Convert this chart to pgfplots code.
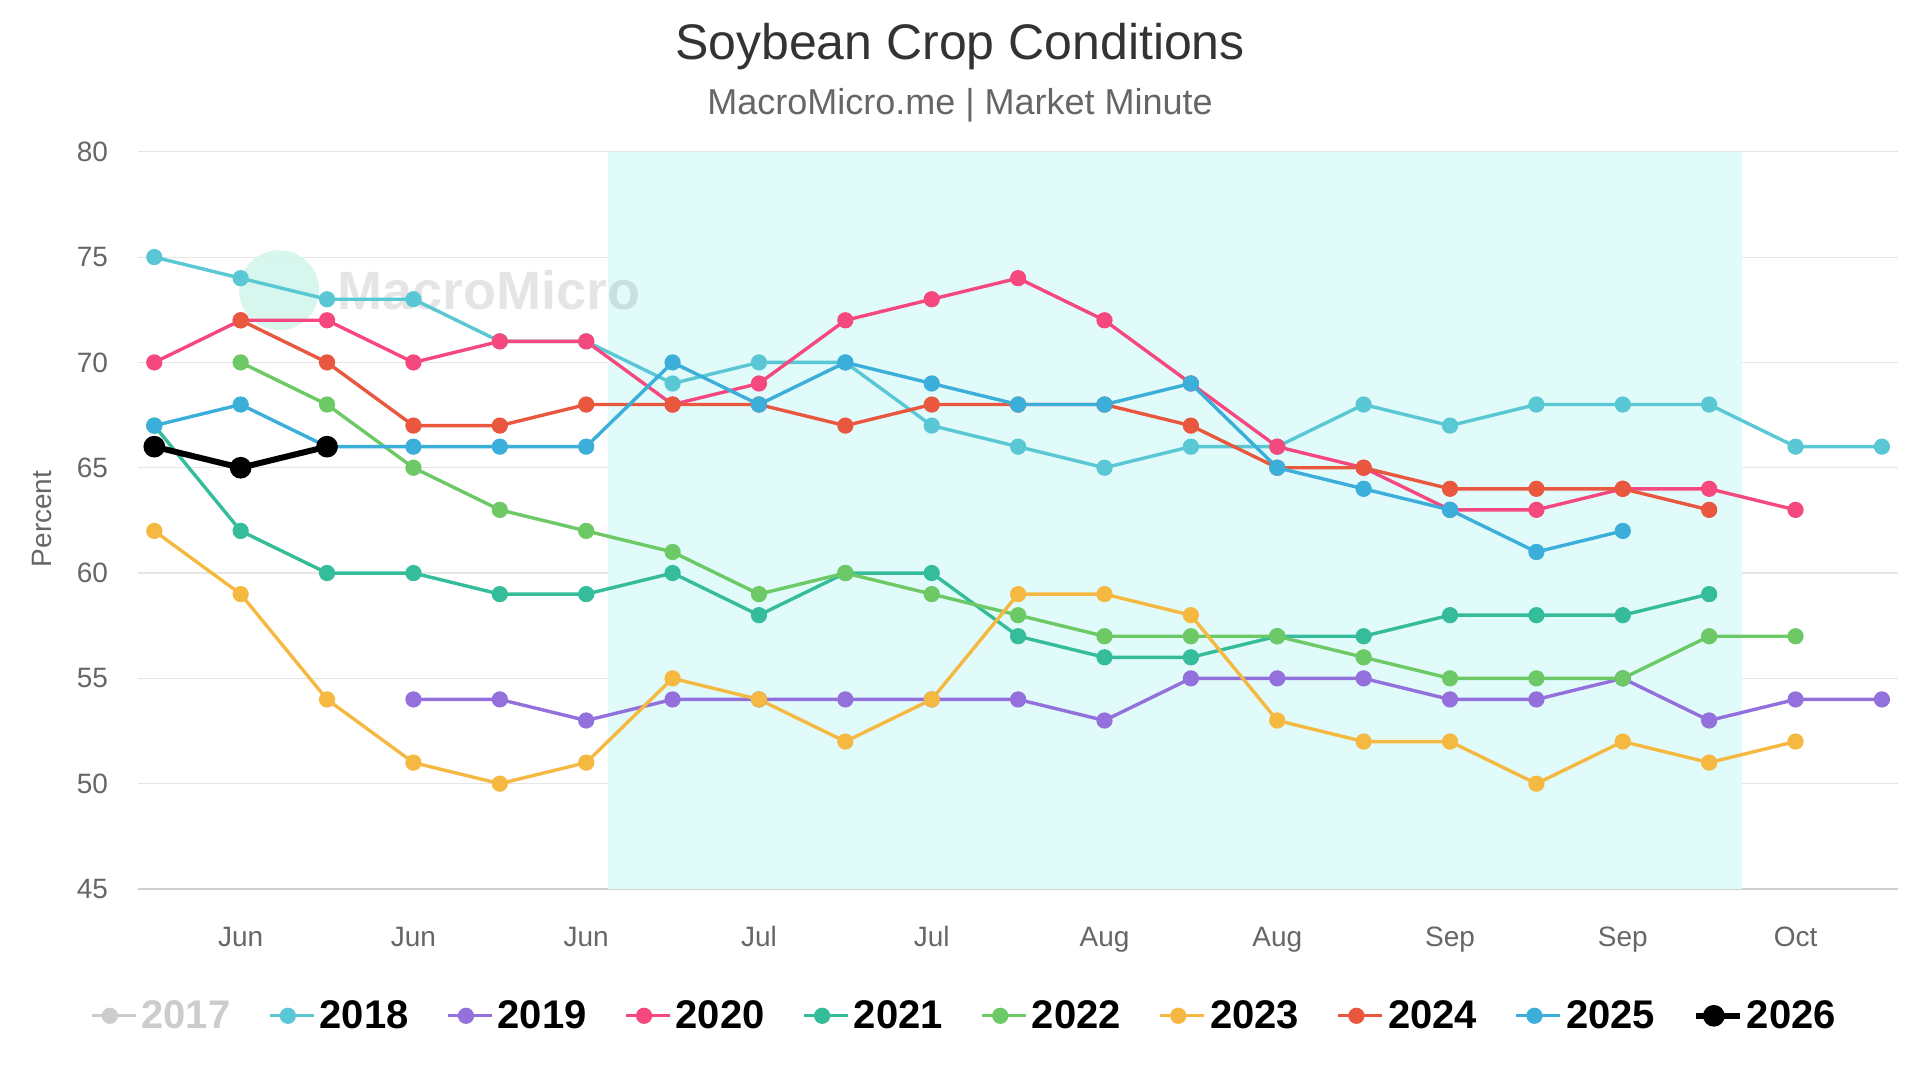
\documentclass[border=0pt]{standalone}
\usepackage{pgfplots}
\pgfplotsset{compat=1.18}
\usepackage{fontspec}
\setmainfont{Liberation Sans}
\definecolor{c17}{HTML}{CCCCCC}
\definecolor{c18}{HTML}{5AC8D4}
\definecolor{c19}{HTML}{9370DB}
\definecolor{c20}{HTML}{F5487F}
\definecolor{c21}{HTML}{35BC9B}
\definecolor{c22}{HTML}{6DC965}
\definecolor{c23}{HTML}{F5B942}
\definecolor{c24}{HTML}{E9573F}
\definecolor{c25}{HTML}{3BAEDA}
\definecolor{c26}{HTML}{000000}
\definecolor{band}{HTML}{E1FAFA}
\definecolor{gridc}{HTML}{E6E6E6}
\definecolor{axisc}{HTML}{D0D0D0}
\definecolor{t333}{HTML}{333333}
\definecolor{t666}{HTML}{666666}
\definecolor{mint}{HTML}{D2F5EC}
\begin{document}
\begin{tikzpicture}
\useasboundingbox (0,0) rectangle (960pt,540pt);
\node[text=t333, font=\fontsize{25}{30}\selectfont] at (480pt,516.8pt) {Soybean Crop Conditions};
\node[text=t666, font=\fontsize{18}{22}\selectfont] at (480pt,487.4pt) {MacroMicro.me | Market Minute};
\node[text=t666, font=\fontsize{14}{16}\selectfont, rotate=90] at (21pt,280.5pt) {Percent};
\begin{axis}[
  at={(69.2pt,95.5pt)}, anchor=south west,
  width=879.7pt, height=368.6pt, scale only axis,
  xmin=-0.184, xmax=20.184, ymin=45, ymax=80,
  ytick={45,50,...,80},
  xtick={1,3,...,19},
  xticklabels={Jun,Jun,Jun,Jul,Jul,Aug,Aug,Sep,Sep,Oct},
  axis x line*=bottom, axis y line*=left,
  x axis line style={draw=axisc, line width=0.6pt, -},
  y axis line style={draw=none},
  major tick length=0pt,
  ymajorgrids, grid style={gridc, line width=0.6pt},
  tick label style={text=t666, font=\fontsize{14}{16}\selectfont},
  /pgf/number format/assume math mode=true,
  xticklabel style={anchor=base, yshift=-29pt},
  yticklabel style={anchor=east, inner sep=0pt, xshift=-15pt},
  clip=false,
  every axis plot/.append style={line width=1.7pt, mark=*, mark size=3.2pt, mark options={solid}},
  legend columns=10,
  legend style={draw=none, fill=none, at={(0.4698,-0.172)}, anchor=center,
    font=\bfseries\fontsize{20}{24}\selectfont,
    /tikz/every even column/.append style={column sep=16.85pt}},
  legend image code/.code={\path (0pt,0pt) -- (22pt,0pt);\draw[mark repeat=2,mark phase=2] plot coordinates {(0pt,0pt) (9pt,0pt) (18pt,0pt)};},
]
\addplot[fill=band, draw=none, mark=none, forget plot] coordinates {(5.25,45) (18.38,45) (18.38,80) (5.25,80)} -- cycle;
\fill[mint, opacity=0.9] (axis cs:1.446,73.43) circle[radius=20pt];
\node[text=black, text opacity=0.1, font=\bfseries\fontsize{27}{30}\selectfont] at (axis cs:3.88,73.43) {MacroMicro};
\addlegendimage{c17, line width=1.7pt, mark=*, mark size=3.2pt}
\addlegendentry{\textcolor{c17}{2017}}
\addplot[c18] coordinates {(0,75)(1,74)(2,73)(3,73)(4,71)(5,71)(6,69)(7,70)(8,70)(9,67)(10,66)(11,65)(12,66)(13,66)(14,68)(15,67)(16,68)(17,68)(18,68)(19,66)(20,66)};
\addlegendentry{2018}
\addplot[c19] coordinates {(3,54)(4,54)(5,53)(6,54)(7,54)(8,54)(9,54)(10,54)(11,53)(12,55)(13,55)(14,55)(15,54)(16,54)(17,55)(18,53)(19,54)(20,54)};
\addlegendentry{2019}
\addplot[c20] coordinates {(0,70)(1,72)(2,72)(3,70)(4,71)(5,71)(6,68)(7,69)(8,72)(9,73)(10,74)(11,72)(12,69)(13,66)(14,65)(15,63)(16,63)(17,64)(18,64)(19,63)};
\addlegendentry{2020}
\addplot[c21] coordinates {(0,67)(1,62)(2,60)(3,60)(4,59)(5,59)(6,60)(7,58)(8,60)(9,60)(10,57)(11,56)(12,56)(13,57)(14,57)(15,58)(16,58)(17,58)(18,59)};
\addlegendentry{2021}
\addplot[c22] coordinates {(1,70)(2,68)(3,65)(4,63)(5,62)(6,61)(7,59)(8,60)(9,59)(10,58)(11,57)(12,57)(13,57)(14,56)(15,55)(16,55)(17,55)(18,57)(19,57)};
\addlegendentry{2022}
\addplot[c23] coordinates {(0,62)(1,59)(2,54)(3,51)(4,50)(5,51)(6,55)(7,54)(8,52)(9,54)(10,59)(11,59)(12,58)(13,53)(14,52)(15,52)(16,50)(17,52)(18,51)(19,52)};
\addlegendentry{2023}
\addplot[c24] coordinates {(1,72)(2,70)(3,67)(4,67)(5,68)(6,68)(7,68)(8,67)(9,68)(10,68)(11,68)(12,67)(13,65)(14,65)(15,64)(16,64)(17,64)(18,63)};
\addlegendentry{2024}
\addplot[c25] coordinates {(0,67)(1,68)(2,66)(3,66)(4,66)(5,66)(6,70)(7,68)(8,70)(9,69)(10,68)(11,68)(12,69)(13,65)(14,64)(15,63)(16,61)(17,62)};
\addlegendentry{2025}
\addplot[c26, line width=3pt, mark size=3.9pt] coordinates {(0,66)(1,65)(2,66)};
\addlegendentry{2026}
\end{axis}
\end{tikzpicture}
\end{document}
